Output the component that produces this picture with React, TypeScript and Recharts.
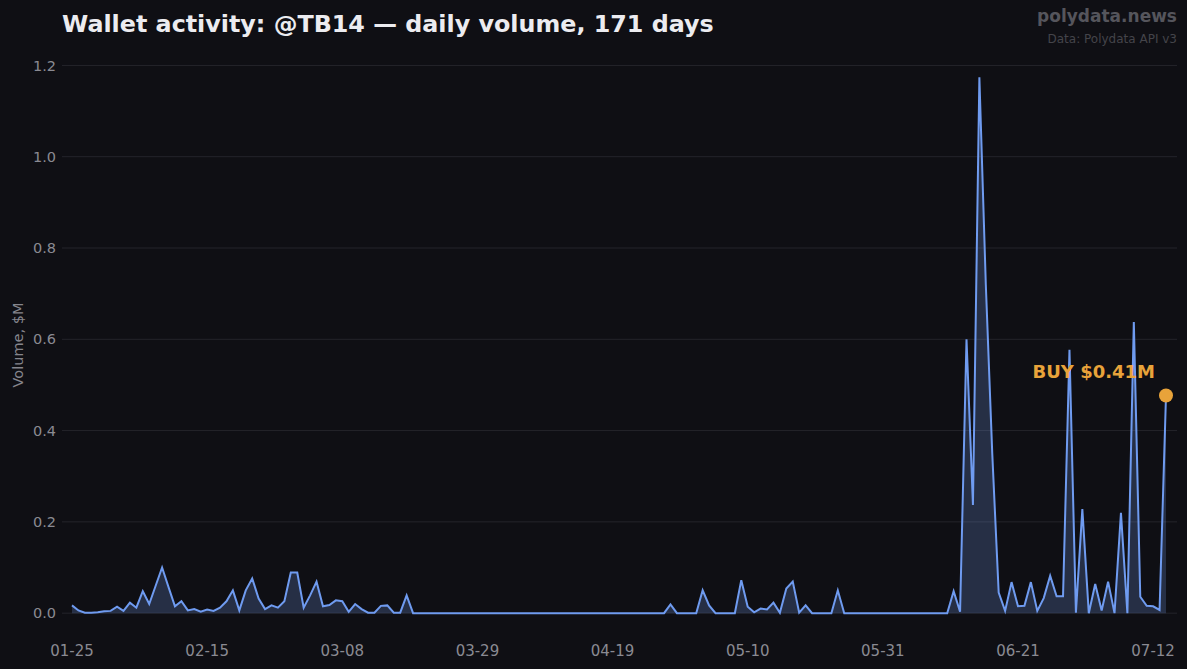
import React from "react";
import {
  AreaChart,
  Area,
  XAxis,
  YAxis,
  CartesianGrid,
  ReferenceDot,
  Label,
} from "recharts";

// daily volume, $M — 2025-01-25 .. 2025-07-14
const START_DATE = "2025-01-25";

const volume = [
  0.017, 0.006, 0.001, 0.001, 0.002, 0.004, 0.005, 0.014, 0.005, 0.023,
  0.012, 0.048, 0.02, 0.06, 0.1, 0.057, 0.015, 0.026, 0.006, 0.009,
  0.003, 0.008, 0.005, 0.012, 0.026, 0.05, 0.006, 0.05, 0.076, 0.032,
  0.009, 0.017, 0.012, 0.026, 0.089, 0.089, 0.012, 0.039, 0.069, 0.015,
  0.018, 0.028, 0.026, 0.003, 0.02, 0.009, 0.001, 0.001, 0.016, 0.017,
  0.001, 0.001, 0.039, 0, 0, 0, 0, 0, 0, 0,
  0, 0, 0, 0, 0, 0, 0, 0, 0, 0,
  0, 0, 0, 0, 0, 0, 0, 0, 0, 0,
  0, 0, 0, 0, 0, 0, 0, 0, 0, 0,
  0, 0, 0, 0.019, 0, 0, 0, 0, 0.05, 0.017,
  0, 0, 0, 0, 0.072, 0.014, 0.002, 0.01, 0.008, 0.023,
  0.001, 0.054, 0.069, 0.001, 0.017, 0, 0, 0, 0, 0.05,
  0, 0, 0, 0, 0, 0, 0, 0, 0, 0,
  0, 0, 0, 0, 0, 0, 0, 0.048, 0.003, 0.6,
  0.237, 1.174, 0.72, 0.35, 0.045, 0.005, 0.068, 0.015, 0.016, 0.068,
  0.005, 0.033, 0.082, 0.037, 0.037, 0.577, 0.001, 0.228, 0, 0.064,
  0.006, 0.069, 0, 0.22, 0, 0.638, 0.036, 0.016, 0.015, 0.007,
  0.477,
];

const xTicks = ["01-25", "02-15", "03-08", "03-29", "04-19", "05-10", "05-31", "06-21", "07-12"];
const yTicks = [0, 0.2, 0.4, 0.6, 0.8, 1.0, 1.2];

const buyLabel = "BUY $0.41M";
const buyValue = 0.477;

function dayLabel(i: number) {
  const d = new Date(START_DATE + "T00:00:00Z");
  d.setUTCDate(d.getUTCDate() + i);
  const mm = String(d.getUTCMonth() + 1).padStart(2, "0");
  const dd = String(d.getUTCDate()).padStart(2, "0");
  return `${mm}-${dd}`;
}

const data = volume.map((v, i) => ({ date: dayLabel(i), volume: v }));
const lastDate = data[data.length - 1].date;

const BG = "#0f0f14";
const LINE = "#6f9bf0";
const ORANGE = "#e8a33a";
const FONT = "'DejaVu Sans', sans-serif";

const BuyLabel = (props: any) => {
  const vb = props.viewBox || {};
  const cx = vb.x + (vb.width || 0) / 2;
  const cy = vb.y + (vb.height || 0) / 2;
  return (
    <text
      x={cx - 11}
      y={cy - 17}
      textAnchor="end"
      fill={ORANGE}
      fontFamily={FONT}
      fontWeight="bold"
      fontSize={18}
    >
      {buyLabel}
    </text>
  );
};

const YTitle = (props: any) => {
  const vb = props.viewBox || {};
  const x = vb.x + 18;
  const y = vb.y + vb.height / 2;
  return (
    <text
      x={x}
      y={y}
      transform={`rotate(-90, ${x}, ${y})`}
      textAnchor="middle"
      dominantBaseline="central"
      fill="#85858d"
      fontFamily={FONT}
      fontSize={14.5}
    >
      Volume, $M
    </text>
  );
};

export default function App() {
  return (
    <div
      style={{
        position: "fixed",
        left: 0,
        top: 0,
        width: 1187,
        height: 669,
        background: BG,
        fontFamily: FONT,
        overflow: "hidden",
      }}
    >
      <div
        style={{
          position: "absolute",
          left: 62,
          top: 10,
          fontSize: 23.8,
          fontWeight: "bold",
          color: "#ececf0",
          whiteSpace: "nowrap",
        }}
      >
        Wallet activity: @TB14 — daily volume, 171 days
      </div>
      <div
        style={{
          position: "absolute",
          right: 10,
          top: 6,
          fontSize: 17,
          fontWeight: "bold",
          color: "#55555c",
          textAlign: "right",
        }}
      >
        polydata.news
      </div>
      <div
        style={{
          position: "absolute",
          right: 10,
          top: 32,
          fontSize: 12,
          color: "#44444a",
          textAlign: "right",
        }}
      >
        Data: Polydata API v3
      </div>
      <AreaChart
        width={1187}
        height={669}
        data={data}
        margin={{ top: 50, right: 10, bottom: 0, left: 0 }}
      >
        <CartesianGrid
          vertical={false}
          horizontalValues={yTicks}
          stroke="#24242b"
          strokeWidth={1}
        />
        <XAxis
          dataKey="date"
          ticks={xTicks}
          interval={0}
          height={29}
          padding={{ left: 10, right: 11 }}
          axisLine={false}
          tickLine={false}
          tickSize={0}
          tickMargin={5}
          tick={{ fill: "#8a8a92", fontSize: 15, fontFamily: FONT }}
        />
        <YAxis
          type="number"
          width={62}
          domain={[-0.0588, 1.2338]}
          allowDataOverflow
          ticks={yTicks}
          tickFormatter={(v: number) => v.toFixed(1)}
          axisLine={false}
          tickLine={false}
          tickSize={0}
          tickMargin={6}
          tick={{ fill: "#8a8a92", fontSize: 14.5, fontFamily: FONT }}
        >
          <Label content={<YTitle />} />
        </YAxis>
        <Area
          type="linear"
          dataKey="volume"
          stroke={LINE}
          strokeWidth={2}
          fill="#7aa2f7"
          fillOpacity={0.22}
          baseValue={0}
          dot={false}
          activeDot={false}
          isAnimationActive={false}
        />
        <ReferenceDot
          x={lastDate}
          y={buyValue}
          r={7}
          fill={ORANGE}
          stroke="none"
          label={<BuyLabel />}
        />
      </AreaChart>
    </div>
  );
}
